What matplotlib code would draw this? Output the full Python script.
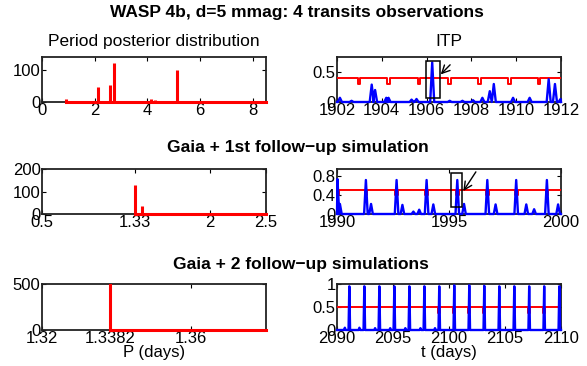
import matplotlib
matplotlib.use('Agg')
import matplotlib.pyplot as plt
from matplotlib.patches import Rectangle

plt.rcParams['font.family'] = ['Liberation Sans', 'DejaVu Sans']
plt.rcParams['font.size'] = 12

# period posterior spikes (period in days, count)
post1_p = [0.91, 2.13, 2.57, 2.74, 4.12, 4.27, 5.14, 8.06]
post1_n = [8, 47, 53, 121, 8, 5, 101, 4]
post1_range = [0.91, 8.5]

post2_p = [1.33, 1.39]
post2_n = [127, 37]
post2_range = [1.33, 2.5]

post3_p = [1.3382]
post3_n = [520]
post3_range = [1.3382, 1.38]

# ITP peaks (time, probability)
itp1_t = [1902.13, 1902.65, 1903.55, 1903.7, 1904.2, 1904.3, 1905.33, 1905.55,
          1906.25, 1907.03, 1907.6, 1908.07, 1908.49, 1908.82, 1909.0, 1909.86,
          1910.6, 1911.45, 1911.73, 1911.98]
itp1_y = [0.07, 0.02, 0.29, 0.20, 0.07, 0.07, 0.04, 0.05,
          0.66, 0.02, 0.02, 0.03, 0.07, 0.18, 0.30, 0.07,
          0.07, 0.38, 0.30, 0.05]
thr1_level, thr1_dip = 0.4, 0.3
thr1_t = [1902.98, 1904.31, 1905.66, 1907.02, 1908.35, 1909.69, 1911.02]

itp2_t = [1990.02, 1990.13, 1991.29, 1991.52, 1992.66, 1992.92, 1993.41, 1993.67,
          1994.0, 1994.3, 1995.37, 1995.67, 1996.71, 1997.08, 1998.0, 1998.45,
          1998.8, 1999.37, 1999.87]
itp2_y = [0.73, 0.21, 0.71, 0.21, 0.71, 0.19, 0.05, 0.09,
          0.71, 0.20, 0.71, 0.21, 0.71, 0.20, 0.71, 0.20,
          0.10, 0.71, 0.20]
thr2_level, thr2_dip = 0.5, 0.4
thr2_t = [1990.02, 1991.29, 1992.66, 1994.0, 1995.37, 1996.71, 1998.0, 1999.37]

itp3_t = [2090.7, 2091.1, 2092.0, 2092.44, 2093.4, 2093.78, 2094.75, 2095.12,
          2096.1, 2096.46, 2097.45, 2097.8, 2098.75, 2099.13, 2100.47, 2101.81,
          2103.15, 2104.49, 2105.83, 2107.16, 2108.5, 2109.85]
itp3_y = [0.05, 0.95, 0.05, 0.95, 0.04, 0.95, 0.04, 0.95,
          0.04, 0.95, 0.04, 0.95, 0.04, 0.95, 0.97, 0.97,
          0.96, 0.95, 0.95, 0.95, 0.95, 0.95]
thr3_level, thr3_dip = 0.5, 0.38
thr3_t = [2091.1, 2092.44, 2093.78, 2095.12, 2096.46, 2097.8, 2099.13, 2100.47,
          2101.81, 2103.15, 2104.49, 2105.83, 2107.16, 2108.5, 2109.85]


def peaks_line(ts, ys, x0, x1, w):
    xs, vs = [x0], [0]
    for t, y in sorted(zip(ts, ys)):
        xs += [max(t - w, x0), t, min(t + w, x1)]
        vs += [0, y, 0]
    xs.append(x1)
    vs.append(0)
    return xs, vs


def threshold_line(ts, level, dip, x0, x1, w):
    xs, vs = [x0], [level]
    for t in ts:
        a, b = max(t - w, x0), min(t + w, x1)
        xs += [a, a, b, b]
        vs += [level, dip, dip, level]
    xs.append(x1)
    vs.append(level)
    return xs, vs


def style(ax, xlim, ylim, xticks, yticks, xlabels=None, ylabels=None):
    ax.set_xlim(xlim)
    ax.set_ylim(ylim)
    ax.set_xticks(xticks)
    if xlabels is not None:
        ax.set_xticklabels(xlabels)
    ax.set_yticks(yticks)
    if ylabels is not None:
        ax.set_yticklabels(ylabels)
    ax.tick_params(direction='in', top=True, right=True, length=3, pad=1,
                   labelsize=12, width=0.8)
    for s in ax.spines.values():
        s.set_linewidth(1.3)
        s.set_color('#222222')


def posterior(ax, ps, ns, rng):
    ax.plot(rng, [0, 0], color='red', lw=2.2, clip_on=False, zorder=3)
    ax.vlines(ps, 0, ns, color='red', lw=2.2, zorder=3)


def itp(ax, ts, ys, thr_t, level, dip, xlim, w, dw):
    tx, ty = threshold_line(thr_t, level, dip, xlim[0], xlim[1], dw)
    ax.plot(tx, ty, color='red', lw=1.4, zorder=3)
    bx, by = peaks_line(ts, ys, xlim[0], xlim[1], w)
    ax.plot(bx, by, color='blue', lw=1.7, clip_on=False, zorder=4)


def pointer(ax, tip, tail):
    ax.annotate('', xy=tip, xytext=tail,
                arrowprops=dict(arrowstyle='->', color='k', lw=1.0,
                                mutation_scale=14, shrinkA=0, shrinkB=0))


fig = plt.figure(figsize=(5.87, 3.66), dpi=100)
W, H = 587.0, 366.0
lx, rx, aw = 42 / W, 337 / W, 224 / W
rows = [(1 - 102 / H, 45 / H), (1 - 214 / H, 45 / H), (1 - 330 / H, 46 / H)]

# row 1
ax = fig.add_axes([lx, rows[0][0], aw, rows[0][1]])
posterior(ax, post1_p, post1_n, post1_range)
style(ax, (0, 8.5), (0, 140), [0, 2, 4, 6, 8], [0, 100])
ax.set_title('Period posterior distribution', fontsize=12.5, pad=8)

ax = fig.add_axes([rx, rows[0][0], aw, rows[0][1]])
itp(ax, itp1_t, itp1_y, thr1_t, thr1_level, thr1_dip, (1902, 1912), 0.09, 0.06)
style(ax, (1902, 1912), (0, 0.75), [1902, 1904, 1906, 1908, 1910, 1912], [0, 0.5],
      ylabels=['0', '0.5'])
ax.add_patch(Rectangle((1905.97, 0.074), 0.63, 0.616, fill=False, ec='k', lw=1.1, zorder=5))
pointer(ax, (1906.63, 0.46), (1907.05, 0.62))
ax.set_title('ITP', fontsize=12.5, pad=8)

# row 2
ax = fig.add_axes([lx, rows[1][0], aw, rows[1][1]])
posterior(ax, post2_p, post2_n, post2_range)
style(ax, (0.5, 2.5), (0, 200), [0.5, 1.33, 2, 2.5], [0, 100, 200],
      ['0.5', '1.33', '2', '2.5'])

ax = fig.add_axes([rx, rows[1][0], aw, rows[1][1]])
itp(ax, itp2_t, itp2_y, thr2_t, thr2_level, thr2_dip, (1990, 2000), 0.08, 0.06)
style(ax, (1990, 2000), (0, 0.94), [1990, 1995, 2000], [0, 0.4, 0.8],
      ylabels=['0', '0.4', '0.8'])
ax.add_patch(Rectangle((1995.09, 0.14), 0.5, 0.72, fill=False, ec='k', lw=1.1, zorder=5))
pointer(ax, (1995.64, 0.48), (1996.2, 0.88))

# row 3
ax = fig.add_axes([lx, rows[2][0], aw, rows[2][1]])
posterior(ax, post3_p, post3_n, post3_range)
style(ax, (1.32, 1.38), (0, 500), [1.32, 1.3382, 1.36], [0, 500],
      ['1.32', '1.3382', '1.36'])
ax.set_xlabel('P (days)', labelpad=-1)

ax = fig.add_axes([rx, rows[2][0], aw, rows[2][1]])
itp(ax, itp3_t, itp3_y, thr3_t, thr3_level, thr3_dip, (2090, 2110), 0.07, 0.07)
style(ax, (2090, 2110), (0, 1), [2090, 2095, 2100, 2105, 2110], [0, 0.5, 1],
      ylabels=['0', '0.5', '1'])
ax.set_xlabel('t (days)', labelpad=-1)

fig.text(0.506, 0.967, 'WASP 4b, d=5 mmag: 4 transits observations',
         ha='center', va='center', fontsize=12.5, fontweight='bold')
fig.text(0.508, 0.596, 'Gaia + 1st follow\u2212up simulation',
         ha='center', va='center', fontsize=12.5, fontweight='bold')
fig.text(0.512, 0.276, 'Gaia + 2 follow\u2212up simulations',
         ha='center', va='center', fontsize=12.5, fontweight='bold')

fig.savefig('out.png', dpi=100)
